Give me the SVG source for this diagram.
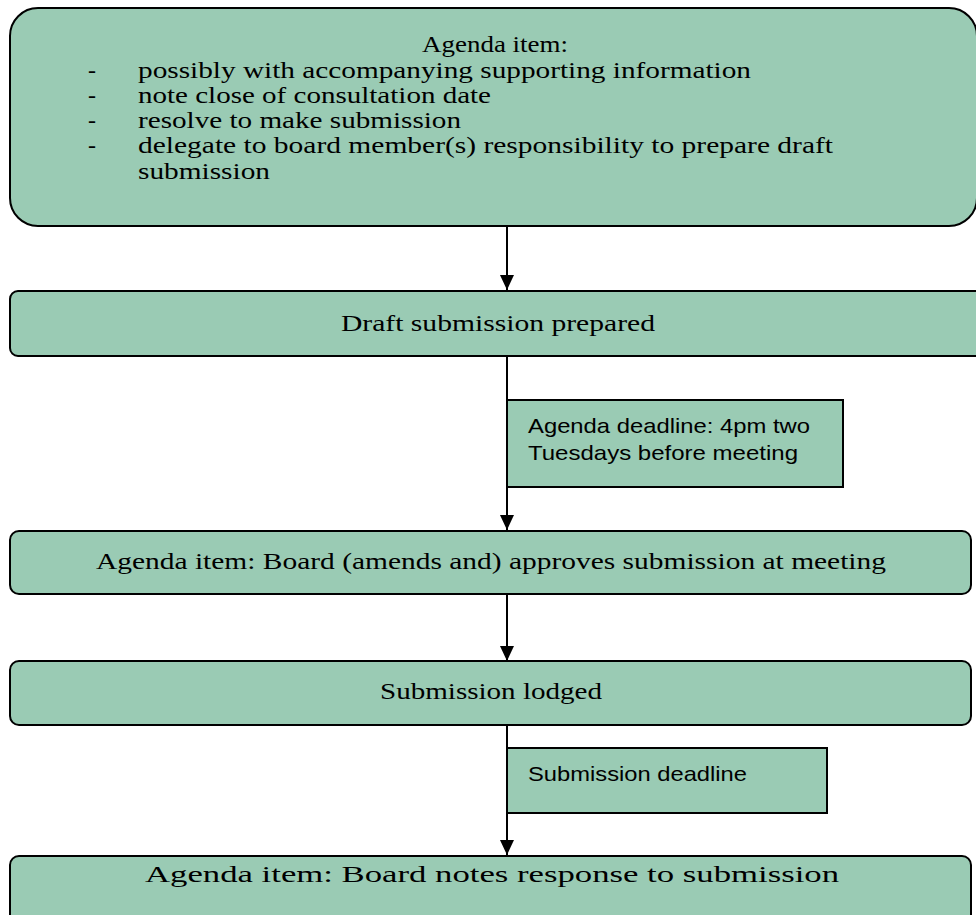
<svg xmlns="http://www.w3.org/2000/svg" width="976" height="915" viewBox="0 0 976 915">
<style>
.node{fill:#9ACBB4;stroke:#000;stroke-width:2}
.serif{font-family:"Liberation Serif","Times New Roman",serif;font-size:24px;fill:#000}
.sans{font-family:"Liberation Sans",Arial,sans-serif;font-size:21px;fill:#000}
.conn{stroke:#000;stroke-width:2;fill:none}
</style>
<defs>
<marker id="arr" markerUnits="userSpaceOnUse" markerWidth="16" markerHeight="16" viewBox="0 0 16 16" refX="15" refY="8" orient="auto">
<path d="M0,1 L15,8 L0,15 Z" fill="#000"/>
</marker>
</defs>
<rect width="976" height="915" fill="#fff"/>
<g id="connectors">
<line class="conn" x1="507" y1="226" x2="507" y2="290" marker-end="url(#arr)"/>
<line class="conn" x1="507" y1="356" x2="507" y2="530" marker-end="url(#arr)"/>
<line class="conn" x1="507" y1="594" x2="507" y2="661" marker-end="url(#arr)"/>
<line class="conn" x1="507" y1="725" x2="507" y2="855" marker-end="url(#arr)"/>
</g>
<g id="node1">
<rect class="node" x="10" y="8" width="967" height="218" rx="28" ry="28"/>
<text class="serif" x="495" y="52" text-anchor="middle" textLength="146" lengthAdjust="spacingAndGlyphs">Agenda item:</text>
<text class="serif" x="88" y="78">-</text>
<text class="serif" x="138" y="78" textLength="613" lengthAdjust="spacingAndGlyphs">possibly with accompanying supporting information</text>
<text class="serif" x="88" y="103">-</text>
<text class="serif" x="138" y="103" textLength="353" lengthAdjust="spacingAndGlyphs">note close of consultation date</text>
<text class="serif" x="88" y="128">-</text>
<text class="serif" x="138" y="128" textLength="323" lengthAdjust="spacingAndGlyphs">resolve to make submission</text>
<text class="serif" x="88" y="153">-</text>
<text class="serif" x="138" y="153" textLength="695" lengthAdjust="spacingAndGlyphs">delegate to board member(s) responsibility to prepare draft</text>
<text class="serif" x="138" y="179" textLength="132" lengthAdjust="spacingAndGlyphs">submission</text>
</g>
<g id="node2">
<rect class="node" x="10" y="291" width="980" height="65" rx="8" ry="8"/>
<text class="serif" x="498" y="331" text-anchor="middle" textLength="314" lengthAdjust="spacingAndGlyphs">Draft submission prepared</text>
</g>
<g id="note1">
<rect class="node" x="507" y="400" width="336" height="87"/>
<text class="sans" x="528" y="433" textLength="282" lengthAdjust="spacingAndGlyphs">Agenda deadline: 4pm two</text>
<text class="sans" x="528" y="460" textLength="270" lengthAdjust="spacingAndGlyphs">Tuesdays before meeting</text>
</g>
<g id="node3">
<rect class="node" x="10" y="531" width="961" height="63" rx="9" ry="9"/>
<text class="serif" x="491" y="569" text-anchor="middle" textLength="790" lengthAdjust="spacingAndGlyphs">Agenda item: Board (amends and) approves submission at meeting</text>
</g>
<g id="node4">
<rect class="node" x="10" y="661" width="961" height="64" rx="9" ry="9"/>
<text class="serif" x="491" y="699" text-anchor="middle" textLength="222" lengthAdjust="spacingAndGlyphs">Submission lodged</text>
</g>
<g id="note2">
<rect class="node" x="507" y="748" width="320" height="65"/>
<text class="sans" x="528" y="781" textLength="219" lengthAdjust="spacingAndGlyphs">Submission deadline</text>
</g>
<g id="node5">
<rect class="node" x="10" y="856" width="961" height="80" rx="9" ry="9"/>
<text class="serif" x="492" y="882" text-anchor="middle" textLength="694" lengthAdjust="spacingAndGlyphs">Agenda item: Board notes response to submission</text>
</g>
</svg>
